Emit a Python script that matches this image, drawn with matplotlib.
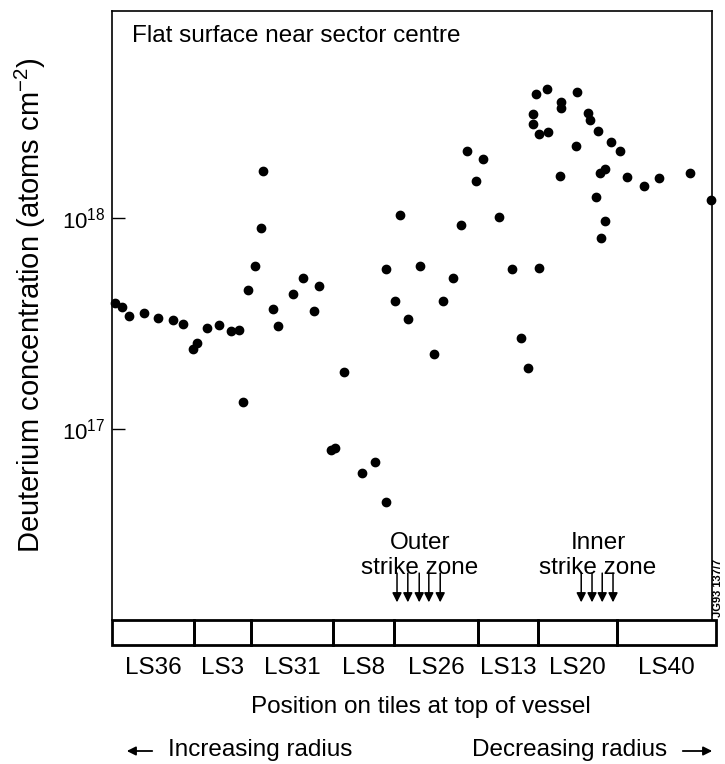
import matplotlib
matplotlib.use('Agg')
import matplotlib.pyplot as plt
import matplotlib.transforms as mtransforms
from matplotlib.patches import Rectangle, FancyArrowPatch
from matplotlib.ticker import NullLocator

plt.rcParams['font.family'] = ['Liberation Sans', 'DejaVu Sans']
plt.rcParams['mathtext.fontset'] = 'custom'
plt.rcParams['mathtext.rm'] = 'Liberation Sans'

# position along the row of tiles (0 = outer end of LS36, 100 = end of LS40)
position = [0.5, 1.7, 2.8, 5.4, 7.6, 10.2, 11.9, 13.5, 14.1, 15.8,
            17.8, 19.8, 21.1, 21.8, 22.7, 23.8, 24.9, 25.1, 26.8, 27.6,
            30.1, 31.8, 33.6, 34.5, 36.5, 37.2, 38.7, 41.6, 43.9, 45.6,
            45.7, 47.1, 48.0, 49.4, 51.3, 53.6, 55.2, 56.9, 58.2, 59.2,
            60.6, 61.8, 64.5, 66.6, 68.2, 69.3, 70.1, 70.1, 70.7, 71.1,
            71.2, 72.5, 72.6, 74.7, 74.8, 74.8, 77.4, 77.5, 79.3, 79.7,
            81.0, 81.3, 81.5, 82.2, 82.2, 80.7, 83.2, 84.6, 85.9, 88.6,
            91.1, 96.4, 99.8]
# deuterium concentration (atoms cm-2)
concentration = [3.94e17, 3.77e17, 3.43e17, 3.56e17, 3.35e17, 3.29e17, 3.15e17, 2.40e17, 2.55e17, 3.00e17,
                 3.10e17, 2.91e17, 2.94e17, 1.34e17, 4.56e17, 5.90e17, 8.94e17, 1.67e18, 3.71e17, 3.09e17,
                 4.38e17, 5.18e17, 3.64e17, 4.76e17, 7.93e16, 8.13e16, 1.86e17, 6.17e16, 7.00e16, 5.73e17,
                 4.52e16, 4.06e17, 1.03e18, 3.31e17, 5.90e17, 2.28e17, 4.04e17, 5.21e17, 9.26e17, 2.08e18,
                 1.50e18, 1.90e18, 1.01e18, 5.71e17, 2.71e17, 1.94e17, 3.10e18, 2.79e18, 3.87e18, 5.79e17,
                 2.50e18, 4.07e18, 2.56e18, 1.59e18, 3.56e18, 3.31e18, 2.20e18, 3.94e18, 3.13e18, 2.91e18,
                 2.59e18, 1.63e18, 8.04e17, 1.71e18, 9.71e17, 1.26e18, 2.30e18, 2.08e18, 1.56e18, 1.42e18,
                 1.54e18, 1.63e18, 1.22e18]

tile_names = ['LS36', 'LS3', 'LS31', 'LS8', 'LS26', 'LS13', 'LS20', 'LS40']
tile_edges = [0, 13.7, 23.2, 36.8, 47.0, 61.0, 71.0, 84.2, 100.7]

# strike zone arrows
outer_zone = [47.5, 49.3, 51.2, 52.8, 54.7]
inner_zone = [78.2, 80.0, 81.7, 83.5]

FS = 17.5

fig = plt.figure(figsize=(7.25, 7.64), dpi=100)
ax = fig.add_axes([0.1545, 0.1885, 0.8276, 0.797])
ax.set_yscale('log')
ax.plot(position, concentration, 'o', color='black', markersize=6, clip_on=False, zorder=3)
ax.set_xlim(0, 100)
ax.set_ylim(1.245e16, 9.57e18)
ax.set_xticks([])
ax.set_yticks([1e17, 1e18])
ax.set_yticklabels([r'$\mathregular{10^{17}}$', r'$\mathregular{10^{18}}$'])
ax.yaxis.set_minor_locator(NullLocator())
ax.tick_params(axis='y', direction='in', length=9, width=1, labelsize=16, pad=5)
ax.spines['bottom'].set_visible(False)
for s in ['left', 'top', 'right']:
    ax.spines[s].set_linewidth(1.2)

trans = mtransforms.blended_transform_factory(ax.transData, ax.transAxes)

# row of tiles under the plot
for i, name in enumerate(tile_names):
    x0, x1 = tile_edges[i], tile_edges[i + 1]
    ax.add_patch(Rectangle((x0, -0.041), x1 - x0, 0.041, transform=trans,
                           fill=False, lw=2, ec='black', clip_on=False))
    ax.text((x0 + x1) / 2, -0.0788, name, transform=trans, ha='center', va='center',
            fontsize=FS)

# strike zones
for xs, label, xc in [(outer_zone, 'Outer', 51.3), (inner_zone, 'Inner', 81.0)]:
    ax.text(xc, 0.127, label, transform=trans, ha='center', va='center', fontsize=FS)
    ax.text(xc, 0.085, 'strike zone', transform=trans, ha='center', va='center', fontsize=FS)
    for x in xs:
        ax.annotate('', xy=(x, 0.029), xycoords=trans, xytext=(x, 0.077), textcoords=trans,
                    arrowprops=dict(arrowstyle='-|>', color='black', lw=1.1,
                                    mutation_scale=14, shrinkA=0, shrinkB=0))

fig.text(132 / 725, 1 - 36 / 764, 'Flat surface near sector centre', va='center', fontsize=FS)
fig.text(30 / 725, 1 - 305 / 764, r'Deuterium concentration (atoms cm$\mathregular{^{-2}}$)',
         rotation=90, ha='center', va='center', fontsize=21)
fig.text(421 / 725, 1 - 707 / 764, 'Position on tiles at top of vessel', ha='center', va='center',
         fontsize=FS)

fig.text(168 / 725, 1 - 750 / 764, 'Increasing radius', va='center', fontsize=FS)
fig.text(667 / 725, 1 - 750 / 764, 'Decreasing radius', ha='right', va='center', fontsize=FS)
for xa, xb in [(155, 124), (680, 715)]:
    fig.add_artist(FancyArrowPatch(
        (xa / 725, 1 - 751 / 764), (xb / 725, 1 - 751 / 764), transform=fig.transFigure,
        arrowstyle='-|>', mutation_scale=13, lw=1.3, color='black'))

fig.text(718 / 725, 1 - 588 / 764, 'JG93 137/7', rotation=90, ha='center', va='center',
         fontsize=8, weight='bold')

fig.savefig('out.png', dpi=100)
